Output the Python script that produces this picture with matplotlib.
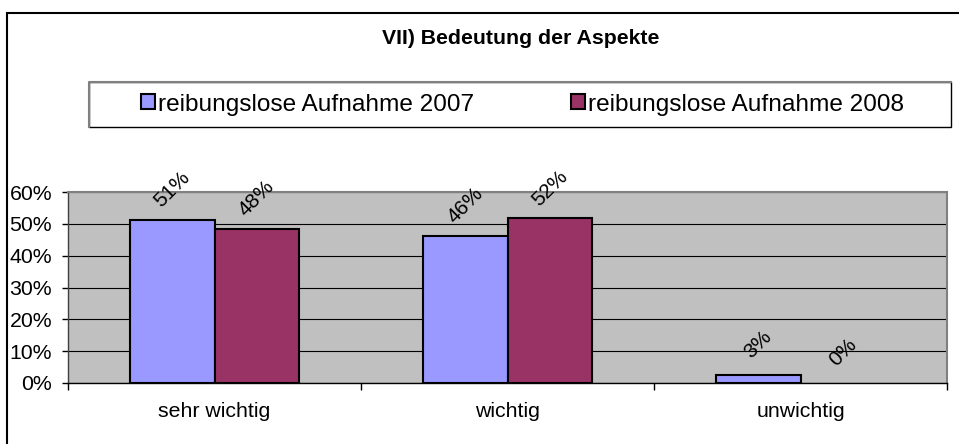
#!/usr/bin/env python3
import numpy as np
import matplotlib
matplotlib.use("Agg")
import matplotlib.pyplot as plt
from matplotlib.patches import Rectangle
from matplotlib.lines import Line2D
from matplotlib.ticker import FixedLocator, PercentFormatter

plt.rcParams['font.family'] = ['Liberation Sans', 'DejaVu Sans']

TITLE = "VII) Bedeutung der Aspekte"
CATEGORIES = ["sehr wichtig", "wichtig", "unwichtig"]
SERIES_NAMES = ["reibungslose Aufnahme 2007", "reibungslose Aufnahme 2008"]
VALUES_2007 = [0.512, 0.462, 0.026]
VALUES_2008 = [0.483, 0.517, 0.0]
COLORS = ["#9999FF", "#993366"]

W, H = 959, 444
fig = plt.figure(figsize=(W / 100, H / 100), dpi=100)

# outer chart frame (runs off the right and bottom edge of the picture)
fig.patches.append(Rectangle((6.5 / W, -0.1), 1.2, (H - 13) / H + 0.1,
                             transform=fig.transFigure, fill=False,
                             edgecolor='black', linewidth=1.5, clip_on=False))

fig.text(521 / W, 1 - 38 / H, TITLE, ha='center', va='center',
         fontsize=15.3, fontweight='bold')

# plot area
ax = fig.add_axes([68 / W, 1 - 383 / H, (947 - 68) / W, (383 - 192) / H])
ax.set_facecolor('#C0C0C0')

x = np.arange(len(CATEGORIES))
bw = 0.287
bars1 = ax.bar(x - bw / 2, VALUES_2007, bw, color=COLORS[0], edgecolor='black',
               linewidth=1.5, label=SERIES_NAMES[0], zorder=3)
bars2 = ax.bar(x + bw / 2, VALUES_2008, bw, color=COLORS[1], edgecolor='black',
               linewidth=1.5, label=SERIES_NAMES[1], zorder=3)

for bars, vals in ((bars1, VALUES_2007), (bars2, VALUES_2008)):
    for b, v in zip(bars, vals):
        if v == 0:
            b.set_visible(False)
        ax.annotate(f"{round(v * 100):.0f}%", (b.get_x() + b.get_width() / 2, v),
                    xytext=(0, 22), textcoords='offset points',
                    ha='center', va='center', rotation=45, fontsize=15,
                    annotation_clip=False, zorder=4)

ax.set_xlim(-0.5, len(CATEGORIES) - 0.5)
ax.set_ylim(0, 0.6)
ax.set_yticks(np.arange(0, 0.61, 0.1))
ax.yaxis.set_major_formatter(PercentFormatter(1.0, decimals=0))
ax.tick_params(axis='y', direction='out', length=4.5, width=1, color='black',
               pad=7, labelsize=15.3)
ax.grid(axis='y', color='black', linewidth=0.8, zorder=1)

# ticks at category boundaries, labels at the centres
ax.xaxis.set_major_locator(FixedLocator(np.arange(len(CATEGORIES) + 1) - 0.5))
ax.xaxis.set_major_formatter(plt.NullFormatter())
ax.xaxis.set_minor_locator(FixedLocator(x))
ax.set_xticklabels(CATEGORIES, minor=True)
ax.tick_params(axis='x', which='major', direction='out', length=5, width=1)
ax.tick_params(axis='x', which='minor', length=0, pad=14, labelsize=15.3)

for side in ('top', 'right'):
    ax.spines[side].set_color('#808080')
    ax.spines[side].set_linewidth(1.5)
ax.spines['left'].set_color('#404040')
ax.spines['left'].set_linewidth(1)
ax.spines['bottom'].set_color('black')
ax.spines['bottom'].set_linewidth(1)

# legend box: black frame with grey top/left edges
lx0, lx1, ly0, ly1 = 89 / W, 951 / W, 1 - 127 / H, 1 - 82 / H
fig.patches.append(Rectangle((lx0, ly0), lx1 - lx0, ly1 - ly0,
                             transform=fig.transFigure, facecolor='white',
                             edgecolor='black', linewidth=1))
fig.lines.append(Line2D([lx0, lx0, lx1], [ly0, ly1, ly1], transform=fig.transFigure,
                        color='#808080', linewidth=1.5))
leg = fig.legend(handles=[bars1, bars2], labels=SERIES_NAMES, ncol=2,
                 loc='center left', bbox_to_anchor=(141 / W, 1 - 104.5 / H),
                 frameon=False, fontsize=17.6, borderpad=0, borderaxespad=0,
                 handlelength=0.57, handleheight=0.57, handletextpad=0.13,
                 columnspacing=3.95)

plt.savefig("out.png", dpi=100)
